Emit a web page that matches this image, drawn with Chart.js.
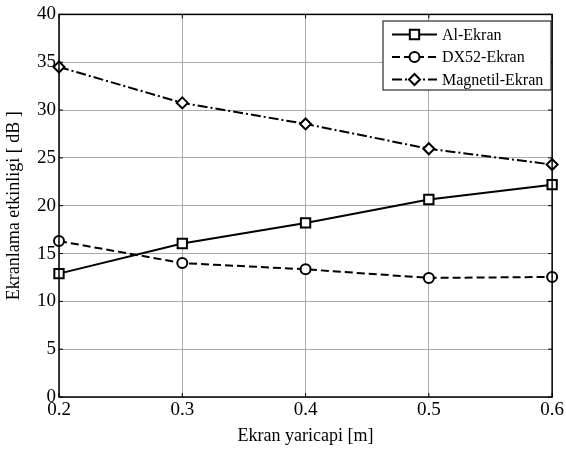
<!DOCTYPE html>
<html>
<head>
<meta charset="utf-8">
<script src="https://cdn.jsdelivr.net/npm/chart.js@4.4.1/dist/chart.umd.min.js"></script>
<style>
  html, body { margin: 0; padding: 0; background: #fff; }
  #wrap { width: 566px; height: 452px; position: relative; }
</style>
</head>
<body>
<div id="wrap"><canvas id="c" width="566" height="452"></canvas></div>
<script>
// data
const radius   = [0.2, 0.3, 0.4, 0.5, 0.6];
const alEkran  = [12.9, 16.05, 18.2, 20.65, 22.2];
const dx52     = [16.3, 14.0, 13.35, 12.45, 12.55];
const magnetil = [34.5, 30.75, 28.55, 25.95, 24.3];
const seriesNames = ['Al-Ekran', 'DX52-Ekran', 'Magnetil-Ekran'];

const FONT = "'Liberation Serif', 'Times New Roman', serif";
const GRID = '#ababab';

const pts = ys => radius.map((x, i) => ({ x: x, y: ys[i] }));

const styles = [
    { dash: [], pointStyle: 'rect', r: 6.6 },
    { dash: [8, 4], pointStyle: 'circle', r: 5 },
    { dash: [10, 3, 2, 3], pointStyle: 'rectRot', r: 5.5 }
];

const datasets = [alEkran, dx52, magnetil].map((ys, i) => ({
    label: seriesNames[i],
    data: pts(ys),
    showLine: true,
    borderColor: '#000',
    borderWidth: 2,
    borderDash: styles[i].dash,
    pointStyle: styles[i].pointStyle,
    pointRadius: styles[i].r,
    pointBorderWidth: 2,
    pointBackgroundColor: '#fff',
    pointBorderColor: '#000',
    clip: false
}));

// frame, inward ticks and boxed legend drawn inside the plot
const framePlugin = {
    id: 'frame',
    afterDatasetsDraw(chart) {
        const { ctx, chartArea: a, scales } = chart;
        ctx.save();
        ctx.strokeStyle = '#000';
        ctx.lineWidth = 1.5;
        ctx.setLineDash([]);
        ctx.strokeRect(a.left, a.top, a.right - a.left, a.bottom - a.top);
        ctx.lineWidth = 1;
        const tl = 4;
        scales.x.ticks.forEach(t => {
            const x = scales.x.getPixelForValue(t.value);
            ctx.beginPath();
            ctx.moveTo(x, a.bottom); ctx.lineTo(x, a.bottom - tl);
            ctx.moveTo(x, a.top); ctx.lineTo(x, a.top + tl);
            ctx.stroke();
        });
        scales.y.ticks.forEach(t => {
            const y = scales.y.getPixelForValue(t.value);
            ctx.beginPath();
            ctx.moveTo(a.left, y); ctx.lineTo(a.left + tl, y);
            ctx.moveTo(a.right, y); ctx.lineTo(a.right - tl, y);
            ctx.stroke();
        });

        // legend
        const bx = 383, by = 21, bw = 168, bh = 69;
        ctx.fillStyle = '#fff';
        ctx.fillRect(bx, by, bw, bh);
        ctx.strokeStyle = '#000';
        ctx.lineWidth = 1;
        ctx.strokeRect(bx, by, bw, bh);
        const rows = [34.5, 57, 79.5];
        ctx.font = '16px ' + FONT;
        ctx.textBaseline = 'middle';
        ctx.textAlign = 'left';
        chart.data.datasets.forEach((ds, i) => {
            const y = rows[i];
            ctx.strokeStyle = '#000';
            ctx.lineWidth = 2;
            ctx.setLineDash(ds.borderDash);
            ctx.beginPath();
            ctx.moveTo(392, y); ctx.lineTo(437, y);
            ctx.stroke();
            ctx.setLineDash([]);
            ctx.fillStyle = '#fff';
            ctx.lineWidth = 2;
            Chart.helpers.drawPoint(ctx, { pointStyle: ds.pointStyle, radius: ds.pointRadius, rotation: 0, borderWidth: 2 }, 414.5, y);
            ctx.fillStyle = '#000';
            ctx.fillText(ds.label, 442, y + 1);
        });
        ctx.restore();
    }
};

new Chart(document.getElementById('c').getContext('2d'), {
    type: 'scatter',
    data: { datasets: datasets },
    options: {
        responsive: false,
        animation: false,
        layout: { padding: { left: 0, top: 14, right: 13, bottom: 0 } },
        plugins: { legend: { display: false }, tooltip: { enabled: false } },
        scales: {
            x: {
                type: 'linear', min: 0.2, max: 0.6,
                afterFit: s => { s.height = 55; },
                border: { display: false },
                grid: { color: GRID, lineWidth: 1, drawTicks: false },
                ticks: { stepSize: 0.1, padding: 2, color: '#000', font: { family: FONT, size: 19 }, callback: v => v.toFixed(1) },
                title: { display: true, text: 'Ekran yaricapi [m]', color: '#000', font: { family: FONT, size: 18 }, padding: { top: 0, bottom: 5 } }
            },
            y: {
                min: 0, max: 40,
                afterFit: s => { s.width = 59; },
                border: { display: false },
                grid: { color: GRID, lineWidth: 1, drawTicks: false },
                ticks: { stepSize: 5, padding: 3, color: '#000', font: { family: FONT, size: 19 } },
                title: { display: true, text: 'Ekranlama etkinligi [ dB ]', color: '#000', font: { family: FONT, size: 18 }, padding: { top: 3, bottom: 0 } }
            }
        }
    },
    plugins: [framePlugin]
});
</script>
</body>
</html>
